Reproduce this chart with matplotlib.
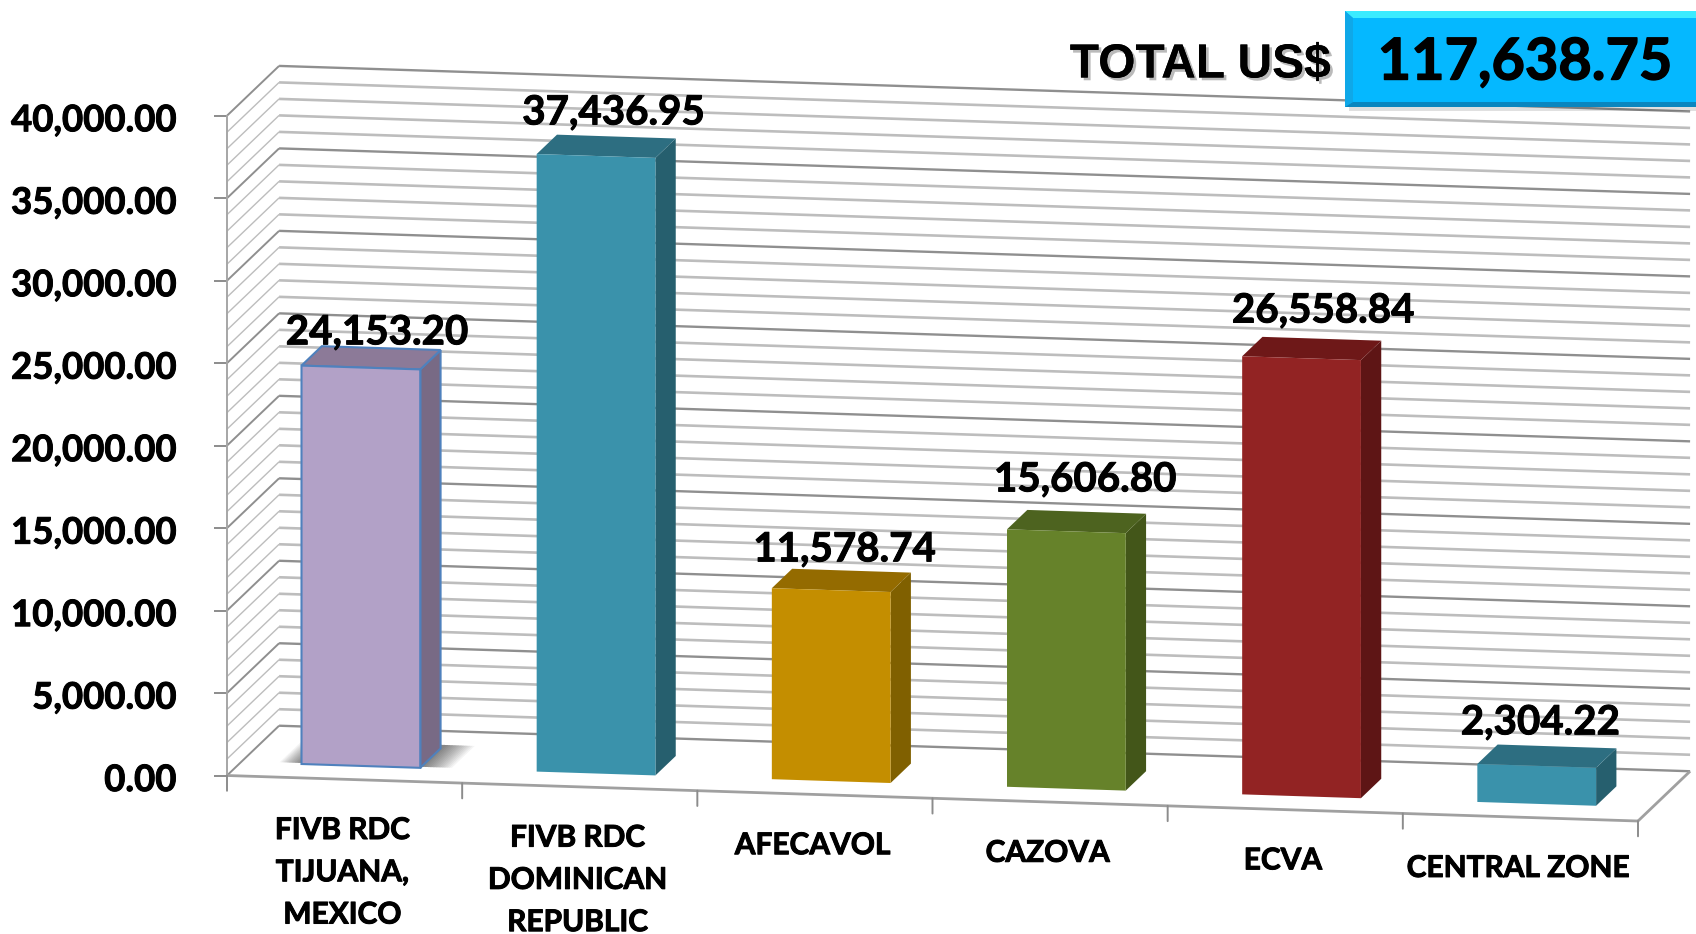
import matplotlib
matplotlib.use("Agg")
import matplotlib.pyplot as plt
import matplotlib.patheffects as pe
from matplotlib.patches import Polygon, Rectangle
from matplotlib.transforms import ScaledTranslation

categories = ["FIVB RDC\nTIJUANA,\nMEXICO", "FIVB RDC\nDOMINICAN\nREPUBLIC", "AFECAVOL",
              "CAZOVA", "ECVA", "CENTRAL ZONE"]
values = [24153.20, 37436.95, 11578.74, 15606.80, 26558.84, 2304.22]
face_colors = ["#B2A1C7", "#3A92AB", "#C48E00", "#66822A", "#922323", "#3A92AB"]
side_colors = ["#786A85", "#265F6E", "#806000", "#435619", "#5E1515", "#265F6E"]
top_colors = ["#8C7A98", "#2D6E81", "#946B00", "#4D631F", "#6E1818", "#2D6E81"]
label_shift = [(-3, 11), (-2, 17), (-5, 15), (-1, 23), (1, 20), (-12, 17)]
total_text = "117,638.75"

W, H = 1696, 934
FONT = "Lato"
# oblique projection of the 3d chart, in axis units
DEPTH_X = 0.2215
DEPTH_Y = 3018
SLOPE = 460
BAR_LEFT, BAR_WIDTH = 0.257, 0.505
BAR_Z0, BAR_Z1 = 0.27, 0.66
HEAVY = [pe.withStroke(linewidth=0.7, foreground="#000000")]


def project(cat, val, depth=0.0):
    return cat + depth * DEPTH_X, val - cat * SLOPE + depth * DEPTH_Y


def line(ax, p, q, color, lw, z=1):
    ax.plot([p[0], q[0]], [p[1], q[1]], color=color, lw=lw, zorder=z, clip_on=False,
            solid_capstyle="butt")


def poly(ax, pts, z, **kw):
    ax.add_patch(Polygon(pts, closed=True, zorder=z, clip_on=False, **kw))


fig = plt.figure(figsize=(W / 100, H / 100), dpi=100)
left, right, top, bottom = 227, 1638, 115.7, 775.5
ax = fig.add_axes([left / W, 1 - bottom / H, (right - left) / W, (bottom - top) / H])
ax.set_xlim(0, 6)
ax.set_ylim(0, 40000)
ax.patch.set_visible(False)
for name in ["top", "right", "bottom"]:
    ax.spines[name].set_visible(False)
ax.spines["left"].set_color("#a6a6a6")
ax.spines["left"].set_linewidth(1.4)
ax.set_xticks([])
yticks = list(range(0, 40001, 5000))
ax.set_yticks(yticks)
ax.set_yticklabels([f"{v:,.2f}" for v in yticks], fontsize=26.3, fontweight="bold",
                   family=FONT, color="#000000", path_effects=HEAVY)
ax.tick_params(axis="y", length=9.5, width=1.4, color="#8c8c8c", pad=27)
nudge = ScaledTranslation(0, -1.5 / 72, fig.dpi_scale_trans)
for tl in ax.get_yticklabels():
    tl.set_transform(tl.get_transform() + nudge)

# walls
for v in range(0, 40001, 1000):
    major = v % 5000 == 0
    line(ax, project(0, v, 1), project(6, v, 1), "#8f8f8f" if major else "#bdbdbd",
         1.7 if major else 1.9)
    line(ax, project(0, v, 0), project(0, v, 1), "#8f8f8f" if major else "#bdbdbd",
         1.4 if major else 1.0)

# floor
line(ax, project(0, 0), project(6, 0), "#a0a0a0", 2.0, 2)
line(ax, project(6, 0), project(6, 0, 1), "#a0a0a0", 2.0, 2)
for i in range(7):
    p = project(i, 0)
    ax.annotate("", xy=p, xytext=(0, -11), textcoords="offset points", annotation_clip=False,
                arrowprops=dict(arrowstyle="-", color="#8c8c8c", lw=1.4, shrinkA=0, shrinkB=0))

# soft shadow round the first bar
n = 14
for i in range(n):
    m = 0.13 * (1 - i / n)
    a, b = BAR_LEFT - m * 0.75, BAR_LEFT + BAR_WIDTH + m
    poly(ax, [project(a, 0, BAR_Z0 + 0.02), project(b, 0, BAR_Z0 + 0.02),
              project(b, 0, BAR_Z1 + 0.07), project(a, 0, BAR_Z1 + 0.07)], 3,
         facecolor="#000000", alpha=0.045, lw=0)

# bars
for i, val in enumerate(values):
    a, b = i + BAR_LEFT, i + BAR_LEFT + BAR_WIDTH
    edge = dict(edgecolor="#4F81BD", lw=1.5) if i == 0 else dict(edgecolor="none", lw=0)
    z = 4 + i
    poly(ax, [project(b, 0, BAR_Z0), project(b, 0, BAR_Z1), project(b, val, BAR_Z1),
              project(b, val, BAR_Z0)], z, facecolor=side_colors[i], **edge)
    poly(ax, [project(a, val, BAR_Z0), project(b, val, BAR_Z0), project(b, val, BAR_Z1),
              project(a, val, BAR_Z1)], z, facecolor=top_colors[i], **edge)
    poly(ax, [project(a, 0, BAR_Z0), project(b, 0, BAR_Z0), project(b, val, BAR_Z0),
              project(a, val, BAR_Z0)], z, facecolor=face_colors[i], **edge)
    dx, dy = label_shift[i]
    ax.annotate(f"{val:,.2f}", xy=project(i + 0.51, val, BAR_Z1), xytext=(dx, dy),
                textcoords="offset points", ha="center", va="center", fontsize=29,
                fontweight="bold", family=FONT, color="#000000", zorder=20,
                annotation_clip=False, path_effects=HEAVY)

# category labels
for i, name in enumerate(categories):
    ax.annotate(name, xy=project(i + 0.49, 0), xytext=(0, -26.5), textcoords="offset points",
                ha="center", va="top", fontsize=21.5, fontweight="bold", family=FONT,
                color="#000000", linespacing=1.62, annotation_clip=False, zorder=20,
                path_effects=HEAVY)

# total box, in pixels
over = fig.add_axes([0, 0, 1, 1])
over.set_xlim(0, W)
over.set_ylim(H, 0)
over.axis("off")
over.add_patch(Rectangle((1349, 15), W - 1349, 96, facecolor="#000000", alpha=0.12, lw=0))
over.add_patch(Rectangle((1345, 11), W - 1345, 96, facecolor="#05B8FF", lw=0))
over.add_patch(Polygon([(1345, 11), (W, 11), (W, 18), (1353, 18)], facecolor="#3BEBFF", lw=0))
over.add_patch(Polygon([(1345, 11), (1353, 18), (1353, 102), (1345, 107)], facecolor="#0FA8E8", lw=0))
over.add_patch(Polygon([(1345, 107), (1353, 102), (W, 102), (W, 107)], facecolor="#0A86BF", lw=0))
over.text(1525, 63, total_text, ha="center", va="center", fontsize=41.5, fontweight="bold",
          family=FONT, color="#000000", path_effects=[pe.withStroke(linewidth=1.0, foreground="#000000")])
over.text(1200, 65, "TOTAL US$", ha="center", va="center", fontsize=34.5, fontweight="bold",
          family="Liberation Sans", color="#000000",
          path_effects=[pe.withSimplePatchShadow(offset=(2, -2), shadow_rgbFace="#777777", alpha=0.5),
                        pe.Normal()])

fig.savefig("out.png", dpi=100)
